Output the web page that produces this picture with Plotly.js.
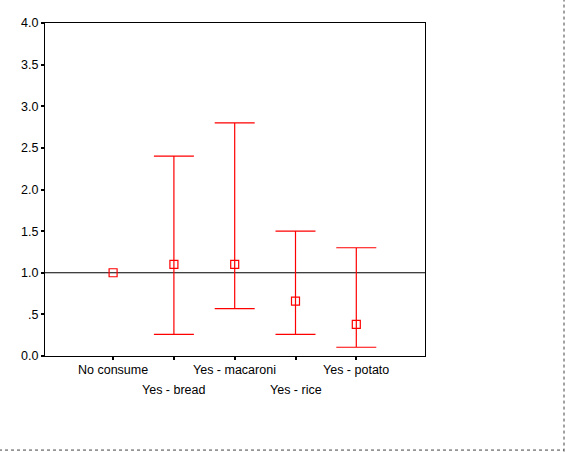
<!DOCTYPE html>
<html>
<head>
<meta charset="utf-8">
<script src="https://cdn.plot.ly/plotly-3.0.1.min.js"></script>
<style>html,body{margin:0;padding:0;background:#fff;}#chart{width:565px;height:452px;}</style>
</head>
<body>
<div id="chart"></div>
<script>
const categories = ["No consume", "Yes - bread", "Yes - macaroni", "Yes - rice", "Yes - potato"];
const estimate = [1.0, 1.1, 1.1, 0.66, 0.38];
const lower = [null, 0.26, 0.57, 0.26, 0.105];
const upper = [null, 2.4, 2.8, 1.5, 1.3];
const yTickVals = [0, 0.5, 1, 1.5, 2, 2.5, 3, 3.5, 4];
const yTickText = ["0.0", ".5", "1.0", "1.5", "2.0", "2.5", "3.0", "3.5", "4.0"];
const refValue = 1.0;

const xPos = categories.map((c, i) => i);
const errPlus = upper.map((u, i) => u == null ? NaN : u - estimate[i]);
const errMinus = lower.map((l, i) => l == null ? NaN : estimate[i] - l);

const red = "#ff0000";
const font = {family: "Liberation Sans, Arial, sans-serif", size: 12.5, color: "#000"};

const trace = {
  x: xPos, y: estimate, type: "scatter", mode: "markers",
  marker: {symbol: "square-open", size: 8, color: red, line: {width: 1.2, color: red}},
  error_y: {type: "data", symmetric: false, array: errPlus, arrayminus: errMinus,
            color: red, thickness: 1.2, width: 20},
  showlegend: false, hoverinfo: "none"
};

const annotations = categories.map((c, i) => ({
  x: i, xref: "x", y: 0, yref: "paper", yanchor: "top", xanchor: "center",
  text: c, showarrow: false, font: font, yshift: (i % 2 === 0) ? -5 : -25
}));

const layout = {
  width: 565, height: 452,
  margin: {l: 45, r: 140, t: 23, b: 96, pad: 0},
  paper_bgcolor: "#fff", plot_bgcolor: "#fff",
  font: font,
  xaxis: {range: [-1.12, 5.13], tickvals: xPos, ticktext: categories.map(() => ""),
          ticks: "outside", ticklen: 3, tickwidth: 2, tickcolor: "#000",
          showline: true, linecolor: "#000", linewidth: 1, mirror: true,
          showgrid: false, zeroline: false, fixedrange: true},
  yaxis: {range: [0, 4], tickvals: yTickVals, ticktext: yTickText,
          ticks: "outside", ticklen: 3, tickwidth: 2, tickcolor: "#000",
          showline: true, linecolor: "#000", linewidth: 1, mirror: true,
          showgrid: false, zeroline: false, fixedrange: true, tickfont: font},
  shapes: [
    {type: "line", xref: "paper", x0: 0, x1: 1, yref: "y", y0: refValue, y1: refValue,
     line: {color: "#000", width: 1}, layer: "below"},
    {type: "line", xref: "paper", x0: 1.3658, x1: 1.3658, yref: "paper", y0: -0.287, y1: 1.07,
     line: {color: "#444", width: 1, dash: "dot"}},
    {type: "line", xref: "paper", x0: -0.2, x1: 1.3658, yref: "paper", y0: -0.2825, y1: -0.2825,
     line: {color: "#444", width: 1, dash: "dot"}}
  ],
  annotations: annotations
};

Plotly.newPlot("chart", [trace], layout, {staticPlot: true, displayModeBar: false});
</script>
</body>
</html>
